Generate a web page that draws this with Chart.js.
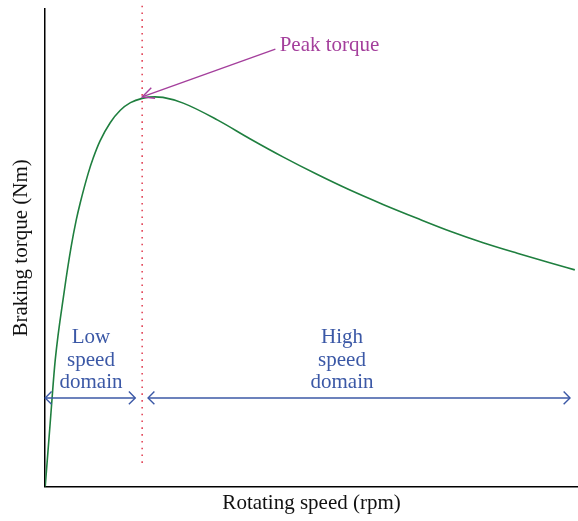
<!DOCTYPE html>
<html>
<head>
<meta charset="utf-8">
<script src="https://cdn.jsdelivr.net/npm/chart.js@4.4.1/dist/chart.umd.min.js"></script>
<style>
    body { margin: 0; background: #fff; }
    canvas { display: block; }
</style>
</head>
<body>
<canvas id="torqueChart" width="578" height="521"></canvas>
<script>
// rotating speed (arbitrary units, axis 0..100) and braking torque (0..100)
const speedValues = [0, 0.94, 1.88, 3.56, 4.88, 5.82, 6.57, 8.07, 9.01, 10.3, 12.2, 14.1, 16.0, 18.2, 20.6, 22.1,
    25.9, 32.3, 38.5, 44.7, 51.0, 57.2, 63.4, 69.8, 76.0, 82.2, 88.6, 94.7, 99.4];
const torqueValues = [0, 13.4, 26.5, 40.8, 50.3, 55.8, 59.4, 65.6, 68.8, 72.4, 76.2, 78.8, 80.4, 81.3, 81.6, 81.5,
    80.3, 76.8, 72.8, 69.0, 65.4, 62.1, 59.1, 56.2, 53.5, 51.1, 48.9, 46.9, 45.4];

const peakSpeed = 18.2;
const peakLine = [5, 101];
const lowDomain = [0, 16.9];
const highDomain = [19.3, 98.5];
const domainLevel = 18.6;

const peakLabel = 'Peak torque';
const lowLabel = ['Low', 'speed', 'domain'];
const highLabel = ['High', 'speed', 'domain'];

const FONT = '"Liberation Serif", "DejaVu Serif", serif';
const GREEN = '#1f7f3f';
const PINK = '#e3475a';
const PURPLE = '#a43f9c';
const BLUE = '#3b58a6';

const curveData = speedValues.map((s, i) => ({ x: s, y: torqueValues[i] }));
const peakData = peakLine.map(t => ({ x: peakSpeed, y: t }));

function openHead(ctx, x1, y1, x2, y2, len, ang) {
    const a = Math.atan2(y2 - y1, x2 - x1);
    ctx.beginPath();
    ctx.moveTo(x2 - len * Math.cos(a - ang), y2 - len * Math.sin(a - ang));
    ctx.lineTo(x2, y2);
    ctx.lineTo(x2 - len * Math.cos(a + ang), y2 - len * Math.sin(a + ang));
    ctx.stroke();
}

function doubleArrow(ctx, x1, x2, y) {
    ctx.beginPath();
    ctx.moveTo(x1, y);
    ctx.lineTo(x2, y);
    ctx.stroke();
    openHead(ctx, x2, y, x1, y, 9, Math.PI / 4);
    openHead(ctx, x1, y, x2, y, 9, Math.PI / 4);
}

const annotations = {
    id: 'annotations',
    afterDatasetsDraw(chart) {
        const { ctx, scales: { x, y } } = chart;
        ctx.save();
        ctx.lineWidth = 1.4;

        // peak torque label and arrow
        ctx.strokeStyle = PURPLE;
        ctx.fillStyle = PURPLE;
        const sx = x.getPixelForValue(43.2), sy = y.getPixelForValue(91.6);
        const tx = x.getPixelForValue(peakSpeed), ty = y.getPixelForValue(81.6);
        ctx.beginPath();
        ctx.moveTo(sx, sy);
        ctx.lineTo(tx, ty);
        ctx.stroke();
        openHead(ctx, sx, sy, tx, ty, 13, 0.45);
        ctx.font = '21px ' + FONT;
        ctx.textBaseline = 'middle';
        ctx.textAlign = 'left';
        ctx.fillText(peakLabel, x.getPixelForValue(44.0), y.getPixelForValue(92.3));

        // speed domains
        ctx.strokeStyle = BLUE;
        ctx.fillStyle = BLUE;
        const ly = y.getPixelForValue(domainLevel);
        doubleArrow(ctx, x.getPixelForValue(lowDomain[0]), x.getPixelForValue(lowDomain[1]), ly);
        doubleArrow(ctx, x.getPixelForValue(highDomain[0]), x.getPixelForValue(highDomain[1]), ly);

        ctx.textAlign = 'center';
        ctx.textBaseline = 'alphabetic';
        const rows = [30.0, 25.3, 20.6];
        lowLabel.forEach((t, i) => ctx.fillText(t, x.getPixelForValue(8.6), y.getPixelForValue(rows[i])));
        highLabel.forEach((t, i) => ctx.fillText(t, x.getPixelForValue(55.7), y.getPixelForValue(rows[i])));
        ctx.restore();
    }
};

const ctx = document.getElementById('torqueChart').getContext('2d');
const torqueChart = new Chart(ctx, {
    type: 'line',
    data: {
        datasets: [{
            data: curveData,
            borderColor: GREEN,
            borderWidth: 1.6,
            pointRadius: 0,
            cubicInterpolationMode: 'monotone',
            fill: false
        }, {
            data: peakData,
            borderColor: PINK,
            borderWidth: 1.6,
            borderDash: [1.6, 5.2],
            pointRadius: 0,
            clip: false,
            fill: false
        }]
    },
    options: {
        responsive: false,
        animation: false,
        layout: { padding: { left: 0, right: 0, top: 9, bottom: 0 } },
        plugins: { legend: { display: false }, tooltip: { enabled: false } },
        scales: {
            x: {
                type: 'linear',
                min: 0,
                max: 100,
                grid: { display: false, drawTicks: false },
                ticks: { display: false },
                border: { color: '#000', width: 1.5 },
                title: {
                    display: true,
                    text: 'Rotating speed (rpm)',
                    color: '#111',
                    font: { family: FONT, size: 21 },
                    padding: { top: 4, bottom: 5 }
                }
            },
            y: {
                min: 0,
                max: 100,
                grid: { display: false, drawTicks: false },
                ticks: { display: false },
                border: { color: '#000', width: 1.5 },
                title: {
                    display: true,
                    text: 'Braking torque (Nm)',
                    color: '#111',
                    font: { family: FONT, size: 21 },
                    padding: { top: 9, bottom: 11 }
                }
            }
        }
    },
    plugins: [annotations]
});
</script>
</body>
</html>
